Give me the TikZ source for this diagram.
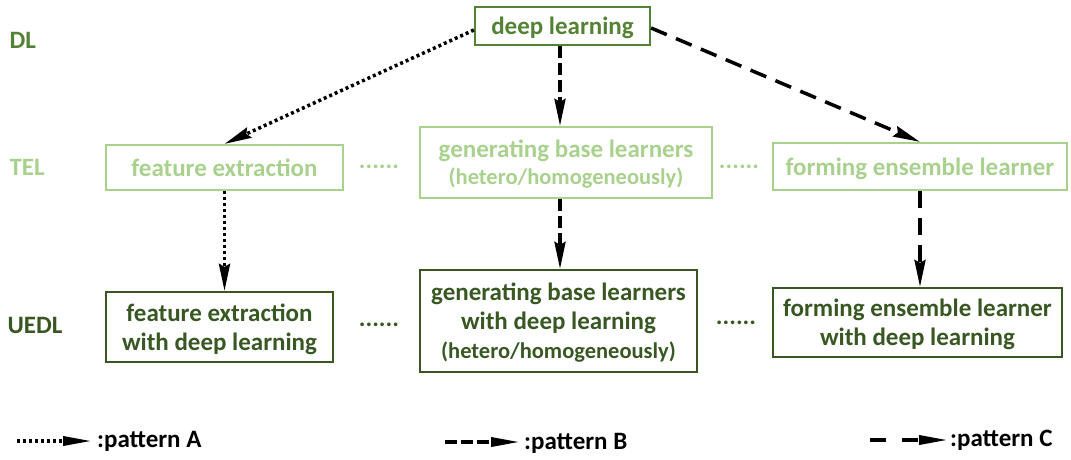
\documentclass[tikz,border=0pt]{standalone}
\usepackage{fontspec}
\setmainfont{Carlito}
\usetikzlibrary{arrows.meta}
\definecolor{dlgreen}{HTML}{548235}
\definecolor{telgreen}{HTML}{A9D18E}
\definecolor{uegreen}{HTML}{385723}
\newcommand{\subline}{\fontsize{22.5}{28}\selectfont}
\begin{document}
\begin{tikzpicture}[x=1pt,y=-1pt,
  font=\bfseries\fontsize{25}{29}\selectfont,
  box/.style={draw,line width=2.2pt,align=center,inner sep=0pt,text depth=0pt},
  dlbox/.style={box,draw=dlgreen,text=dlgreen},
  telbox/.style={box,draw=telgreen,text=telgreen},
  uebox/.style={box,draw=uegreen,text=uegreen},
  tip/.style={-{Stealth[length=27pt,width=11pt,inset=3pt]}},
  patA/.style={tip,line width=3.5pt,dash pattern=on 3pt off 3pt},
  patB/.style={tip,line width=3.5pt,dash pattern=on 12pt off 5pt},
  patC/.style={tip,line width=3.5pt,dash pattern=on 17pt off 10pt},
  legtip/.style={-{Triangle[length=29pt,width=9pt]}}
]
\useasboundingbox (0,0) rectangle (1071,459);
% row labels
\node[text=dlgreen,anchor=west] (lDL) at (6,40) {DL};
\node[text=telgreen,anchor=west] (lTEL) at (6,167) {TEL};
\node[text=uegreen,anchor=west] (lUEDL) at (4,325) {UEDL};
% DL
\node[dlbox,minimum width=175pt,minimum height=38pt] (dl) at (562.5,26) {deep learning};
% TEL
\node[telbox,minimum width=292pt,minimum height=71pt] (tg) at (566,162.5) {generating base learners\\[-2pt]{\subline(hetero/homogeneously)}};
\node[telbox,minimum width=237pt,minimum height=45pt] (tf) at (224.5,167.5) {feature extraction};
\node[telbox,minimum width=294pt,minimum height=47pt] (tfe) at (920,166.5) {forming ensemble learner};
\node[text=telgreen] (d1) at (379,167) {......};
\node[text=telgreen] (d2) at (739,167) {......};
% UEDL
\node[uebox,minimum width=227pt,minimum height=70pt] (uf) at (219.5,327) {feature extraction\\with deep learning};
\node[uebox,minimum width=277pt,minimum height=102pt] (ug) at (558.5,321) {generating base learners\\with deep learning\\{\subline(hetero/homogeneously)}};
\node[uebox,minimum width=289pt,minimum height=69pt] (ufe) at (917.5,322.5) {forming ensemble learner\\with deep learning};
\node[text=uegreen] (d3) at (379,325) {......};
\node[text=uegreen] (d4) at (736,323) {......};
% arrows
\draw[patA] (dl.west) ++(0,4) coordinate (a0) -- (tf.north);
\draw[patA] (tf.south) -- (uf.north -| tf.south);
\draw[patB] (dl.south -| 560,0) -- (tg.north -| 560,0);
\draw[patB] (tg.south -| 560,0) -- (ug.north -| 560,0);
\draw[patC] (dl.east) ++(0,2) coordinate (c0) -- (tfe.north);
\draw[patC] (tfe.south) -- (ufe.north -| tfe.south);
% legend
\coordinate (la0) at (17,441); \coordinate (la1) at (92,441);
\draw[line width=3.5pt,dash pattern=on 3pt off 3pt,legtip] (la0) -- (la1);
\node[anchor=west,inner sep=0pt,text=black] (lta) at (97,441) {:pattern A};
\coordinate (lb0) at (445,442); \coordinate (lb1) at (520,442);
\draw[line width=3.5pt,dash pattern=on 12pt off 4pt,legtip] (lb0) -- (lb1);
\node[anchor=west,inner sep=0pt,text=black] (ltb) at (524,443) {:pattern B};
\coordinate (lc0) at (870,440); \coordinate (lc1) at (948,440);
\draw[line width=3.5pt,dash pattern=on 16pt off 16pt,legtip] (lc0) -- (lc1);
\node[anchor=west,inner sep=0pt,text=black] (ltc) at (950,440) {:pattern C};
\end{tikzpicture}
\end{document}
